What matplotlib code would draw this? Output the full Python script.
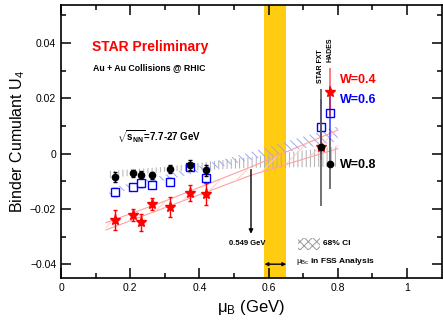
import numpy as np
import matplotlib.pyplot as plt
from matplotlib.patches import Rectangle

plt.rcParams['font.family'] = ['Liberation Sans', 'DejaVu Sans']
plt.rcParams['mathtext.fontset'] = 'custom'
plt.rcParams['mathtext.rm'] = 'Liberation Sans'
plt.rcParams['mathtext.it'] = 'Liberation Sans:italic'
plt.rcParams['mathtext.bf'] = 'Liberation Sans:bold'
plt.rcParams['hatch.linewidth'] = 0.7

# STAR BES collider points
mu_b = [0.157, 0.207, 0.230, 0.262, 0.314, 0.372, 0.420]
u4_w08 = [-0.0086, -0.0072, -0.0076, -0.0079, -0.0056, -0.0041, -0.0061]
err_w08 = [0.0018, 0.0012, 0.0014, 0.0012, 0.0015, 0.0017, 0.0020]
u4_w06 = [-0.0138, -0.0121, -0.0108, -0.0112, -0.0102, -0.0047, -0.0090]
err_w06 = [0.0014, 0.0010, 0.0012, 0.0012, 0.0012, 0.0014, 0.0016]
u4_w04 = [-0.0241, -0.0223, -0.0249, -0.0181, -0.0193, -0.0143, -0.0146]
err_w04 = [0.0036, 0.0022, 0.0030, 0.0022, 0.0036, 0.0030, 0.0040]

# STAR FXT and HADES
mu_fx = [0.751, 0.776]
fx_w08 = [0.0022, -0.0038]
fx_err08 = [0.0210, 0.0090]
fx_w06 = [0.0097, 0.0146]
fx_err06 = [0.0099, 0.0097]
fx_w04 = [0.0025, 0.0221]
fx_err04 = [0.0050, 0.0087]

# 68% CI bands of the linear fits
band_x = [0.14, 0.30, 0.55, 0.80]
band08_lo = [-0.0089, -0.0066, -0.0052, -0.0048]
band08_hi = [-0.0063, -0.0048, -0.0012, 0.0026]
band06_lo = [-0.0150, -0.0097, -0.0022, 0.0045]
band06_hi = [-0.0126, -0.0077, 0.0006, 0.0098]
red_x = [0.13, 0.30, 0.55, 0.80]
band04_lo = [-0.0276, -0.0196, -0.0078, 0.0018]
band04_hi = [-0.0250, -0.0172, -0.0048, 0.0085]

mu_bc_lo, mu_bc_hi = 0.588, 0.651
mu_cross = 0.549

x_ticks = [0, 0.2, 0.4, 0.6, 0.8, 1.0]
x_labels = ['0', '0.2', '0.4', '0.6', '0.8', '1']
y_ticks = [-0.04, -0.02, 0, 0.02, 0.04]
y_labels = ['\u22120.04', '\u22120.02', '0', '0.02', '0.04']

fig = plt.figure(figsize=(4.43, 3.22), dpi=100)
ax = fig.add_axes([0.1377, 0.1366, 0.8593, 0.848])

ax.axvspan(mu_bc_lo, mu_bc_hi, color='#FFCC11', lw=0, zorder=0)

ax.fill_between(band_x, band08_lo, band08_hi, facecolor='none', edgecolor='#b0b0b0',
                hatch='||||', lw=0, zorder=1)
ax.fill_between(band_x, band06_lo, band06_hi, facecolor='none', edgecolor='#9aa8f0',
                hatch='\\\\\\\\', lw=0, zorder=1)
ax.plot(red_x, band04_lo, color='#ff9f9f', lw=0.8, zorder=1)
ax.plot(red_x, band04_hi, color='#ff9f9f', lw=0.8, zorder=1)
ax.fill_between(red_x, band04_lo, band04_hi, facecolor='none', edgecolor='#ffcaca',
                hatch='//', lw=0, zorder=1)

ax.errorbar(mu_b, u4_w08, yerr=err_w08, fmt='o', color='black', ms=4.5, capsize=1.2,
            elinewidth=1, zorder=4)
ax.errorbar(mu_b, u4_w06, yerr=err_w06, fmt='s', color='blue', mfc='white', mec='blue',
            ms=6, mew=1, capsize=1.2, elinewidth=1, zorder=3)
ax.errorbar(mu_b, u4_w04, yerr=err_w04, fmt='*', color='red', ms=8, capsize=1.2,
            elinewidth=1, zorder=3)

ax.errorbar(mu_fx, fx_w08, yerr=fx_err08, fmt='o', color='black', ecolor='0.35', ms=4.5,
            elinewidth=1.2, zorder=4)
ax.errorbar(mu_fx, fx_w06, yerr=fx_err06, fmt='s', color='blue', mfc='none', mec='blue',
            ecolor=(0, 0, 1, 0.7), ms=6, mew=1, elinewidth=1.2, zorder=3)
ax.errorbar(mu_fx, fx_w04, yerr=fx_err04, fmt='*', color='red', ecolor=(1, 0, 0, 0.6),
            ms=7, elinewidth=1.2, zorder=3)

# annotations
ax.text(0.09, 0.0385, 'STAR Preliminary', color='red', fontsize=10, fontweight='bold',
        va='center')
ax.text(0.093, 0.0312, 'Au + Au Collisions @ RHIC', fontsize=6.3, fontweight='bold',
        va='center')
ax.text(0.163, 0.0062, r'$\sqrt{\mathbf{s_{NN}}}$=7.7-27 GeV', fontsize=7,
        fontweight='bold', va='center')
ax.text(0.805, 0.0265, 'W=0.4', color='red', fontsize=9, fontweight='bold', va='center')
ax.text(0.805, 0.0193, 'W=0.6', color='blue', fontsize=9, fontweight='bold', va='center')
ax.text(0.805, -0.0042, 'W=0.8', color='black', fontsize=9, fontweight='bold', va='center')
ax.text(mu_fx[0], 0.0255, 'STAR FXT', rotation=90, fontsize=5, fontweight='bold',
        ha='center', va='bottom')
ax.text(mu_fx[1], 0.0330, 'HADES', rotation=90, fontsize=5, fontweight='bold',
        ha='center', va='bottom')

ax.annotate('', xy=(mu_cross, -0.0300), xytext=(mu_cross, -0.0048),
            arrowprops=dict(arrowstyle='-|>', color='black', lw=1, mutation_scale=6))
ax.text(mu_cross - 0.01, -0.0326, '0.549 GeV', fontsize=5.5, fontweight='bold',
        ha='center', va='center')

ax.annotate('', xy=(mu_bc_lo, -0.0400), xytext=(mu_bc_hi, -0.0400),
            arrowprops=dict(arrowstyle='<|-|>', color='black', lw=1, mutation_scale=5,
                            shrinkA=0, shrinkB=0))
ax.add_patch(Rectangle((0.684, -0.0348), 0.063, 0.0043, facecolor='none',
                       edgecolor='#999999', hatch='xxxx', lw=0))
ax.text(0.756, -0.0325, '68% CI', fontsize=6, fontweight='bold', va='center')
ax.text(0.68, -0.0390, r'$\mathrm{\mu_{Bc}}$ in FSS Analysis', fontsize=6,
        fontweight='bold', va='center')

ax.set_xlim(0, 1.1)
ax.set_ylim(-0.045, 0.0537)
ax.set_xticks(x_ticks)
ax.set_xticklabels(x_labels)
ax.set_yticks(y_ticks)
ax.set_yticklabels(y_labels)
ax.set_xticks(np.arange(0.1, 1.1, 0.2), minor=True)
ax.set_yticks([-0.03, -0.01, 0.01, 0.03, 0.05], minor=True)
ax.tick_params(which='both', direction='in', top=True, right=True, labelsize=7.5, width=1.1)
ax.tick_params(which='major', length=7)
ax.tick_params(which='minor', length=3.5)
for s in ax.spines.values():
    s.set_linewidth(1.2)

ax.set_xlabel(r'$\mathrm{\mu_B}$ (GeV)', fontsize=12, labelpad=4)
ax.set_ylabel('Binder Cumulant U$_4$', fontsize=11.5, labelpad=2)

fig.savefig('out.png', dpi=100)
